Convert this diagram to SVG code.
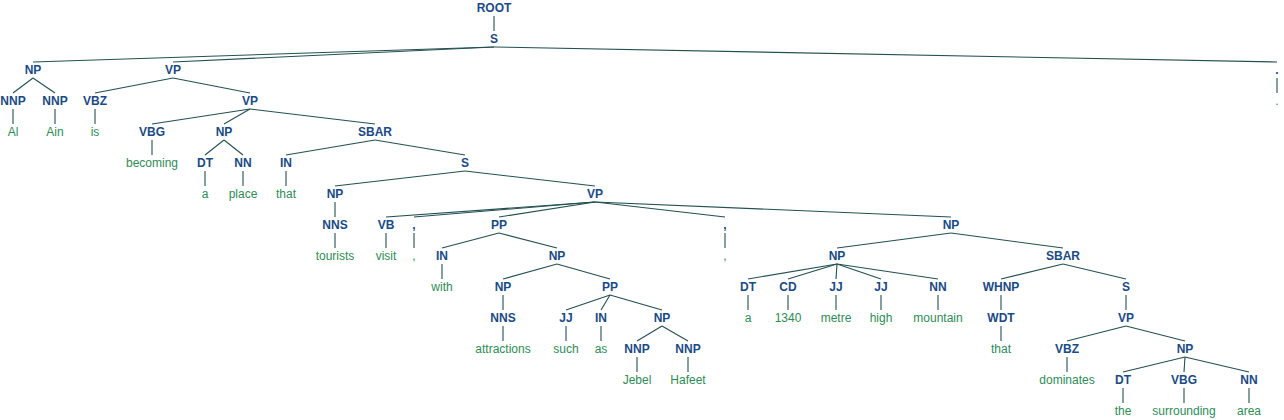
<svg xmlns="http://www.w3.org/2000/svg" width="1284" height="420" viewBox="0 0 1284 420">
<style>
.l{font-family:"Liberation Sans",Arial,sans-serif;font-size:12px;font-weight:bold;fill:#1a4a86;text-anchor:middle}
.w{font-family:"Liberation Sans",Arial,sans-serif;font-size:12px;fill:#2e8b57;text-anchor:middle}
.e line{stroke:#245050;stroke-width:1.1}
</style>
<rect width="1284" height="420" fill="#fff"/>
<g class="e" id="edges">
<line x1="494" y1="16" x2="494" y2="31"/>
<line x1="494" y1="47" x2="33" y2="62"/>
<line x1="494" y1="47" x2="173" y2="62"/>
<line x1="494" y1="47" x2="1277" y2="62"/>
<line x1="33" y1="78" x2="13" y2="93"/>
<line x1="33" y1="78" x2="55" y2="93"/>
<line x1="173" y1="78" x2="95" y2="93"/>
<line x1="173" y1="78" x2="250" y2="93"/>
<line x1="1277" y1="78" x2="1277" y2="93"/>
<line x1="13" y1="109" x2="13" y2="124"/>
<line x1="55" y1="109" x2="55" y2="124"/>
<line x1="95" y1="109" x2="95" y2="124"/>
<line x1="250" y1="109" x2="152" y2="124"/>
<line x1="250" y1="109" x2="224" y2="124"/>
<line x1="250" y1="109" x2="375" y2="124"/>
<line x1="152" y1="140" x2="152" y2="155"/>
<line x1="224" y1="140" x2="205" y2="155"/>
<line x1="224" y1="140" x2="243" y2="155"/>
<line x1="375" y1="140" x2="286" y2="155"/>
<line x1="375" y1="140" x2="465" y2="155"/>
<line x1="205" y1="171" x2="205" y2="186"/>
<line x1="243" y1="171" x2="243" y2="186"/>
<line x1="286" y1="171" x2="286" y2="186"/>
<line x1="465" y1="171" x2="335" y2="186"/>
<line x1="465" y1="171" x2="595" y2="186"/>
<line x1="335" y1="202" x2="335" y2="217"/>
<line x1="595" y1="202" x2="386" y2="217"/>
<line x1="595" y1="202" x2="414" y2="217"/>
<line x1="595" y1="202" x2="499" y2="217"/>
<line x1="595" y1="202" x2="725" y2="217"/>
<line x1="595" y1="202" x2="951" y2="217"/>
<line x1="335" y1="233" x2="335" y2="248"/>
<line x1="386" y1="233" x2="386" y2="248"/>
<line x1="414" y1="233" x2="414" y2="248"/>
<line x1="499" y1="233" x2="442" y2="248"/>
<line x1="499" y1="233" x2="557" y2="248"/>
<line x1="725" y1="233" x2="725" y2="248"/>
<line x1="951" y1="233" x2="837" y2="248"/>
<line x1="951" y1="233" x2="1063" y2="248"/>
<line x1="442" y1="264" x2="442" y2="279"/>
<line x1="557" y1="264" x2="503" y2="279"/>
<line x1="557" y1="264" x2="610" y2="279"/>
<line x1="837" y1="264" x2="748" y2="279"/>
<line x1="837" y1="264" x2="788" y2="279"/>
<line x1="837" y1="264" x2="836" y2="279"/>
<line x1="837" y1="264" x2="881" y2="279"/>
<line x1="837" y1="264" x2="938" y2="279"/>
<line x1="1063" y1="264" x2="1001" y2="279"/>
<line x1="1063" y1="264" x2="1126" y2="279"/>
<line x1="503" y1="295" x2="503" y2="310"/>
<line x1="610" y1="295" x2="566" y2="310"/>
<line x1="610" y1="295" x2="601" y2="310"/>
<line x1="610" y1="295" x2="662" y2="310"/>
<line x1="748" y1="295" x2="748" y2="310"/>
<line x1="788" y1="295" x2="788" y2="310"/>
<line x1="836" y1="295" x2="836" y2="310"/>
<line x1="881" y1="295" x2="881" y2="310"/>
<line x1="938" y1="295" x2="938" y2="310"/>
<line x1="1001" y1="295" x2="1001" y2="310"/>
<line x1="1126" y1="295" x2="1126" y2="310"/>
<line x1="503" y1="326" x2="503" y2="341"/>
<line x1="566" y1="326" x2="566" y2="341"/>
<line x1="601" y1="326" x2="601" y2="341"/>
<line x1="662" y1="326" x2="637" y2="341"/>
<line x1="662" y1="326" x2="688" y2="341"/>
<line x1="1001" y1="326" x2="1001" y2="341"/>
<line x1="1126" y1="326" x2="1067" y2="341"/>
<line x1="1126" y1="326" x2="1185" y2="341"/>
<line x1="637" y1="357" x2="637" y2="372"/>
<line x1="688" y1="357" x2="688" y2="372"/>
<line x1="1067" y1="357" x2="1067" y2="372"/>
<line x1="1185" y1="357" x2="1123" y2="372"/>
<line x1="1185" y1="357" x2="1184" y2="372"/>
<line x1="1185" y1="357" x2="1249" y2="372"/>
<line x1="1123" y1="388" x2="1123" y2="403"/>
<line x1="1184" y1="388" x2="1184" y2="403"/>
<line x1="1249" y1="388" x2="1249" y2="403"/>
</g>
<g id="n_root"><text class="l" x="494" y="12">ROOT</text></g>
<g id="n_s1"><text class="l" x="494" y="43">S</text></g>
<g id="n_np1"><text class="l" x="33" y="74">NP</text></g>
<g id="n_vp1"><text class="l" x="173" y="74">VP</text></g>
<g id="n_dot"><text class="l" x="1277" y="74">.</text></g>
<g id="n_nnp1"><text class="l" x="13" y="105">NNP</text></g>
<g id="n_nnp2"><text class="l" x="55" y="105">NNP</text></g>
<g id="n_vbz1"><text class="l" x="95" y="105">VBZ</text></g>
<g id="n_vp2"><text class="l" x="250" y="105">VP</text></g>
<g id="w_dot"><text class="w" x="1277" y="105">.</text></g>
<g id="w_al"><text class="w" x="13" y="136">Al</text></g>
<g id="w_ain"><text class="w" x="55" y="136">Ain</text></g>
<g id="w_is"><text class="w" x="95" y="136">is</text></g>
<g id="n_vbg1"><text class="l" x="152" y="136">VBG</text></g>
<g id="n_np2"><text class="l" x="224" y="136">NP</text></g>
<g id="n_sbar1"><text class="l" x="375" y="136">SBAR</text></g>
<g id="w_becoming"><text class="w" x="152" y="167">becoming</text></g>
<g id="n_dt1"><text class="l" x="205" y="167">DT</text></g>
<g id="n_nn1"><text class="l" x="243" y="167">NN</text></g>
<g id="n_in1"><text class="l" x="286" y="167">IN</text></g>
<g id="n_s2"><text class="l" x="465" y="167">S</text></g>
<g id="w_a1"><text class="w" x="205" y="198">a</text></g>
<g id="w_place"><text class="w" x="243" y="198">place</text></g>
<g id="w_that1"><text class="w" x="286" y="198">that</text></g>
<g id="n_np3"><text class="l" x="335" y="198">NP</text></g>
<g id="n_vp3"><text class="l" x="595" y="198">VP</text></g>
<g id="n_nns1"><text class="l" x="335" y="229">NNS</text></g>
<g id="n_vb1"><text class="l" x="386" y="229">VB</text></g>
<g id="n_comma1"><text class="l" x="414" y="229">,</text></g>
<g id="n_pp1"><text class="l" x="499" y="229">PP</text></g>
<g id="n_comma2"><text class="l" x="725" y="229">,</text></g>
<g id="n_np4"><text class="l" x="951" y="229">NP</text></g>
<g id="w_tourists"><text class="w" x="335" y="260">tourists</text></g>
<g id="w_visit"><text class="w" x="386" y="260">visit</text></g>
<g id="w_comma1"><text class="w" x="414" y="260">,</text></g>
<g id="n_in2"><text class="l" x="442" y="260">IN</text></g>
<g id="n_np5"><text class="l" x="557" y="260">NP</text></g>
<g id="w_comma2"><text class="w" x="725" y="260">,</text></g>
<g id="n_np6"><text class="l" x="837" y="260">NP</text></g>
<g id="n_sbar2"><text class="l" x="1063" y="260">SBAR</text></g>
<g id="w_with"><text class="w" x="442" y="291">with</text></g>
<g id="n_np7"><text class="l" x="503" y="291">NP</text></g>
<g id="n_pp2"><text class="l" x="610" y="291">PP</text></g>
<g id="n_dt2"><text class="l" x="748" y="291">DT</text></g>
<g id="n_cd1"><text class="l" x="788" y="291">CD</text></g>
<g id="n_jj1"><text class="l" x="836" y="291">JJ</text></g>
<g id="n_jj2"><text class="l" x="881" y="291">JJ</text></g>
<g id="n_nn2"><text class="l" x="938" y="291">NN</text></g>
<g id="n_whnp1"><text class="l" x="1001" y="291">WHNP</text></g>
<g id="n_s3"><text class="l" x="1126" y="291">S</text></g>
<g id="n_nns2"><text class="l" x="503" y="322">NNS</text></g>
<g id="n_jj3"><text class="l" x="566" y="322">JJ</text></g>
<g id="n_in3"><text class="l" x="601" y="322">IN</text></g>
<g id="n_np8"><text class="l" x="662" y="322">NP</text></g>
<g id="w_a2"><text class="w" x="748" y="322">a</text></g>
<g id="w_1340"><text class="w" x="788" y="322">1340</text></g>
<g id="w_metre"><text class="w" x="836" y="322">metre</text></g>
<g id="w_high"><text class="w" x="881" y="322">high</text></g>
<g id="w_mountain"><text class="w" x="938" y="322">mountain</text></g>
<g id="n_wdt1"><text class="l" x="1001" y="322">WDT</text></g>
<g id="n_vp4"><text class="l" x="1126" y="322">VP</text></g>
<g id="w_attractions"><text class="w" x="503" y="353">attractions</text></g>
<g id="w_such"><text class="w" x="566" y="353">such</text></g>
<g id="w_as"><text class="w" x="601" y="353">as</text></g>
<g id="n_nnp3"><text class="l" x="637" y="353">NNP</text></g>
<g id="n_nnp4"><text class="l" x="688" y="353">NNP</text></g>
<g id="w_that2"><text class="w" x="1001" y="353">that</text></g>
<g id="n_vbz2"><text class="l" x="1067" y="353">VBZ</text></g>
<g id="n_np9"><text class="l" x="1185" y="353">NP</text></g>
<g id="w_jebel"><text class="w" x="637" y="384">Jebel</text></g>
<g id="w_hafeet"><text class="w" x="688" y="384">Hafeet</text></g>
<g id="w_dominates"><text class="w" x="1067" y="384">dominates</text></g>
<g id="n_dt3"><text class="l" x="1123" y="384">DT</text></g>
<g id="n_vbg2"><text class="l" x="1184" y="384">VBG</text></g>
<g id="n_nn3"><text class="l" x="1249" y="384">NN</text></g>
<g id="w_the"><text class="w" x="1123" y="415">the</text></g>
<g id="w_surrounding"><text class="w" x="1184" y="415">surrounding</text></g>
<g id="w_area"><text class="w" x="1249" y="415">area</text></g>
</svg>
